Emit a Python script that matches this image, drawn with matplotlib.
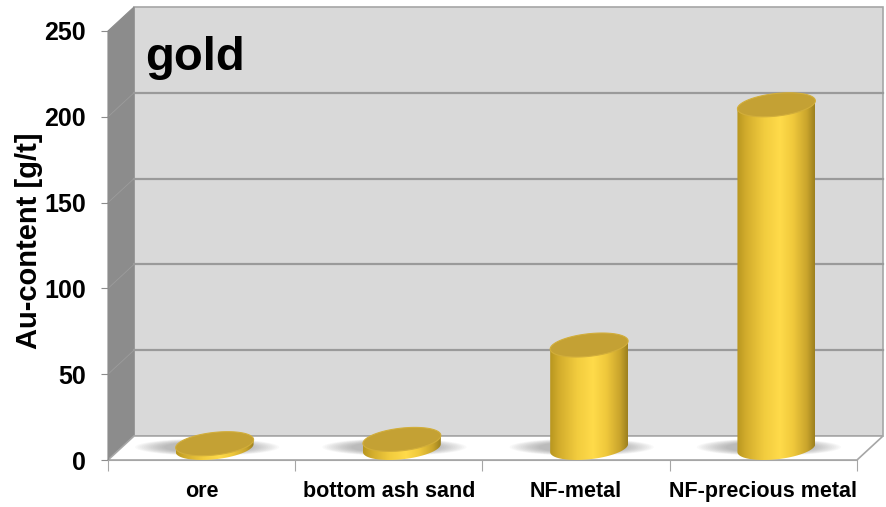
import numpy as np
import matplotlib
matplotlib.use("Agg")
import matplotlib.pyplot as plt
from matplotlib.patches import Polygon, Ellipse
from matplotlib.colors import LinearSegmentedColormap

categories = ["ore", "bottom ash sand", "NF-metal", "NF-precious metal"]
values = [2.5, 5, 60, 200]
yticks = [0, 50, 100, 150, 200, 250]
ylabel = "Au-content [g/t]"
title = "gold"

FONT = ["Liberation Sans", "DejaVu Sans"]

fig = plt.figure(figsize=(8.86, 5.07), dpi=100)
ax = fig.add_axes([108/886, 47/507, 749/886, 429/507])
ax.set_xlim(-0.5, 3.5)
ax.set_ylim(0, 250)
ax.patch.set_alpha(0)

DX, DY = 0.139, 14.0   # depth offset (data units)
x0, x1, ymax = -0.5, 3.5, 250

# back wall
ax.add_patch(Polygon([(x0+DX, DY), (x1+DX, DY), (x1+DX, ymax+DY), (x0+DX, ymax+DY)],
                     closed=True, fc="#d9d9d9", ec="#a6a6a6", lw=1.2, zorder=0, clip_on=False))
# left wall
ax.add_patch(Polygon([(x0, 0), (x0+DX, DY), (x0+DX, ymax+DY), (x0, ymax)],
                     closed=True, fc="#8c8c8c", ec="#8c8c8c", lw=0.8, zorder=0, clip_on=False))
# floor
floor = Polygon([(x0, 0), (x1, 0), (x1+DX, DY), (x0+DX, DY)],
                closed=True, fc="white", ec="#a6a6a6", lw=1.2, zorder=1, clip_on=False)
ax.add_patch(floor)
# gridlines
for v in yticks[1:-1]:
    ax.plot([x0+DX, x1+DX], [v+DY, v+DY], color="#9a9a9a", lw=1.6, zorder=1, clip_on=False)
    ax.plot([x0, x0+DX], [v, v+DY], color="#9c9c9c", lw=0.6, zorder=1, clip_on=False)

# cylinders
a = 0.208
b = 6.6
k = 2.33
cmap = LinearSegmentedColormap.from_list("goldbody", [
    (0.0, "#b8961f"), (0.12, "#d3ad2d"), (0.35, "#f2cc3e"), (0.55, "#ffdb4a"),
    (0.72, "#f0c93c"), (0.9, "#c9a42c"), (1.0, "#9c801f")])
grad = np.linspace(0, 1, 256)[None, :]
t = np.linspace(0, 2*np.pi, 200)
for i, v in enumerate(values):
    cx = i + DX/2
    base = DY/2
    # soft shadow on floor
    for s in range(14):
        f = s / 14
        ax.add_patch(Ellipse((cx - 0.04, base + 0.5), 2*a*(1.05 + 0.8*(1-f)), 2*b*(0.75 - 0.3*f),
                             fc="#505050", ec="none", alpha=0.03, zorder=2, clip_on=False))
    # body
    tb = np.linspace(np.pi, 2*np.pi, 100)
    bx = cx + a*np.cos(tb)
    by = base + b*np.sin(tb) + k*np.cos(tb)
    body = np.vstack([np.column_stack([bx, by]),
                      [[cx + a, base + v + k], [cx - a, base + v - k]]])
    poly = Polygon(body, closed=True, fc="none", ec="none", zorder=3)
    ax.add_patch(poly)
    im = ax.imshow(grad, cmap=cmap, extent=[cx - a, cx + a, base - b - k, base + v + b + k],
                   aspect="auto", zorder=3, interpolation="bilinear")
    im.set_clip_path(poly)
    # top
    tx = cx + a*np.cos(t)
    ty = base + v + b*np.sin(t) + k*np.cos(t)
    ax.add_patch(Polygon(np.column_stack([tx, ty]), closed=True, fc="#c4a134",
                         ec="#d2ae3a", lw=0.8, zorder=4))

ax.set_xlim(-0.5, 3.5)
ax.set_ylim(0, 250)

# axes styling
for sp in ["top", "right"]:
    ax.spines[sp].set_visible(False)
ax.spines["left"].set_color("#8c8c8c")
ax.spines["bottom"].set_color("#a6a6a6")
ax.spines["left"].set_zorder(2)
ax.set_yticks(yticks)
ax.set_yticklabels([str(v) for v in yticks])
ax.tick_params(axis="y", direction="out", length=5, color="#8c8c8c", pad=11)
ax.set_xticks(np.arange(-0.5, 4, 1))
ax.set_xticklabels([])
ax.set_xticks(np.arange(len(categories)), minor=True)
ax.set_xticklabels(categories, minor=True)
ax.tick_params(axis="x", which="major", direction="out", length=8, color="#a6a6a6")
ax.tick_params(axis="x", which="minor", length=0, pad=15)
for lab in ax.get_yticklabels():
    lab.set_fontfamily(FONT); lab.set_fontweight("bold"); lab.set_fontsize(18)
for lab in ax.get_xticklabels(minor=True):
    lab.set_fontfamily(FONT); lab.set_fontweight("bold"); lab.set_fontsize(15.5)

fig.text(29/886, 1 - 241/507, ylabel, rotation=90, ha="center", va="center",
         fontsize=21, fontweight="bold", family=FONT)
ax.text(-0.30, 234, title, fontsize=34, fontweight="bold", family=FONT,
        ha="left", va="center", zorder=5)

fig.savefig("out.png", dpi=100)
